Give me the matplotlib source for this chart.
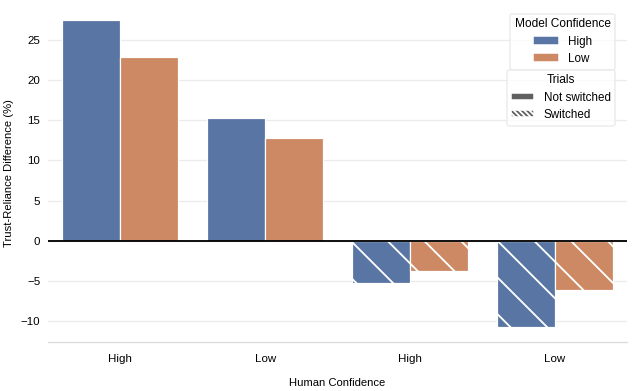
import numpy as np
import matplotlib
matplotlib.use("Agg")
from matplotlib import pyplot as plt
from matplotlib.patches import Patch

plt.rcParams['font.family'] = ['Liberation Sans', 'DejaVu Sans']
plt.rcParams['hatch.linewidth'] = 1.2

# data
human_conf = ['High', 'Low', 'High', 'Low']
switched = [False, False, True, True]
model_high = [27.5, 15.3, -5.35, -10.75]
model_low = [22.9, 12.8, -3.8, -6.15]

blue = '#5875a4'
orange = '#cc8963'

DPI = 110
fig, ax = plt.subplots(figsize=(632 / DPI, 391 / DPI), dpi=DPI)
fig.subplots_adjust(left=48 / 632, right=627 / 632, top=1 - 5 / 391, bottom=1 - 342 / 391)

x = np.arange(len(human_conf))
w = 0.4
for vals, col, off in [(model_high, blue, -w / 2), (model_low, orange, w / 2)]:
    bars = ax.bar(x + off, vals, width=w, color=col, edgecolor='white', linewidth=0.8, zorder=2)
    for b, sw in zip(bars, switched):
        if sw:
            b.set_hatch('\\')

ax.axhline(0, color='black', linewidth=1.2, zorder=3)

ax.set_xticks(x)
ax.set_xticklabels(human_conf)
ax.set_xlim(-0.5, 3.5)
ax.set_yticks([-10, -5, 0, 5, 10, 15, 20, 25])
ax.tick_params(length=0, labelsize=7.5)
ax.tick_params(axis='y', pad=5)
ax.tick_params(axis='x', pad=8)
ax.yaxis.grid(True, color='#ebebeb', linewidth=0.8, zorder=0)
ax.set_axisbelow(True)
for s in ['left', 'right', 'top']:
    ax.spines[s].set_visible(False)
ax.spines['bottom'].set_color('#dcdcdc')
ax.spines['bottom'].set_linewidth(0.9)

ax.set_xlabel('Human Confidence', fontsize=7.4, labelpad=9)
ax.set_ylabel('Trust-Reliance Difference (%)', fontsize=7.4, labelpad=4.5)

leg1 = ax.legend(handles=[Patch(facecolor=blue, edgecolor='white', label='High'),
                          Patch(facecolor=orange, edgecolor='white', label='Low')],
                 title='Model Confidence', loc='upper right', bbox_to_anchor=(0.99, 0.991),
                 fontsize=7.6, title_fontsize=7.8, frameon=True, edgecolor='#e8e8e8',
                 handlelength=2.2, handleheight=0.8, borderpad=0.4, labelspacing=0.45)
ax.add_artist(leg1)
ax.legend(handles=[Patch(facecolor='#606060', edgecolor='white', label='Not switched'),
                   Patch(facecolor='#606060', edgecolor='white', hatch='\\' * 7, label='Switched')],
          title='Trials', loc='upper right', bbox_to_anchor=(0.99, 0.825),
          fontsize=7.6, title_fontsize=7.8, frameon=True, edgecolor='#e8e8e8',
          handlelength=2.0, handleheight=0.6, borderpad=0.4, labelspacing=0.45)

plt.savefig('out.png', dpi=DPI)
